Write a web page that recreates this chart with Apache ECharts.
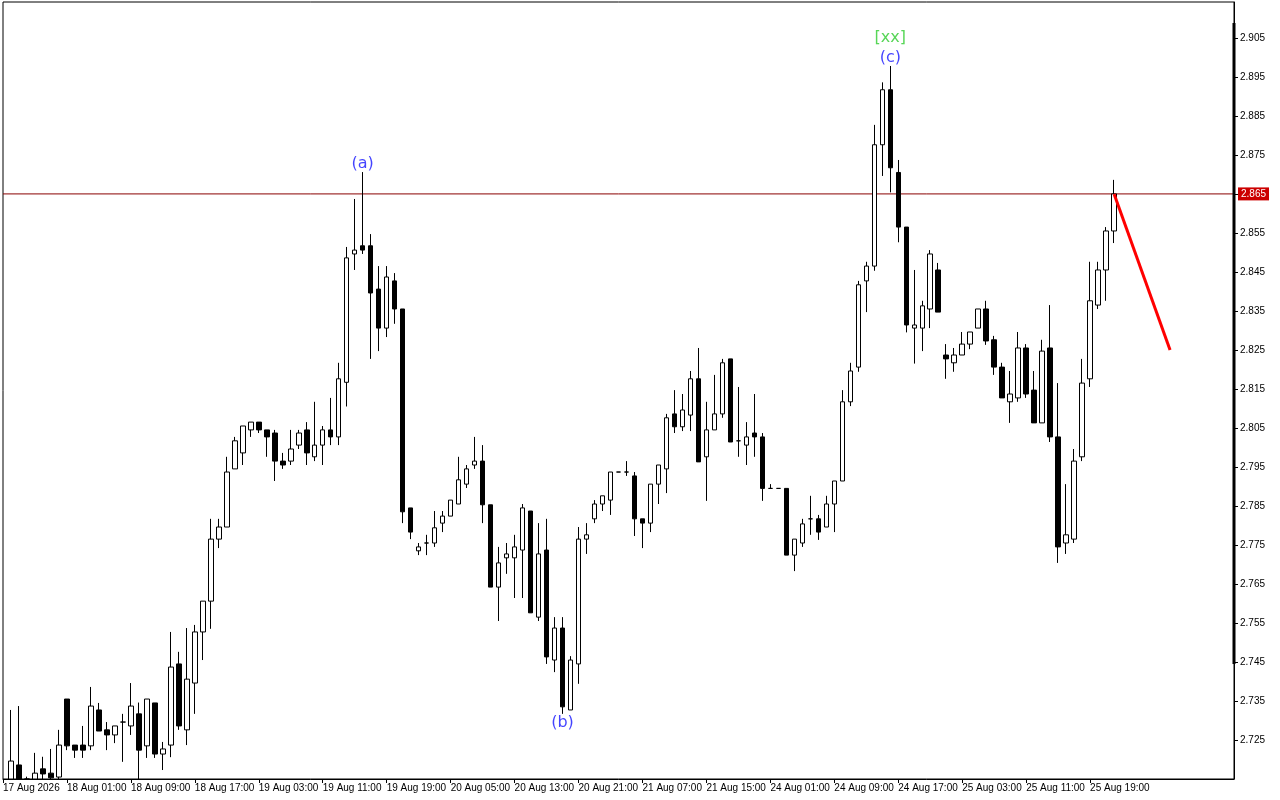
<!DOCTYPE html>
<html>
<head>
<meta charset="utf-8">
<script src="https://cdn.jsdelivr.net/npm/echarts@6/dist/echarts.min.js"></script>
<style>
html,body{margin:0;padding:0;background:#fff;}
#c{width:1280px;height:800px;}
</style>
</head>
<body>
<div id="c"></div>
<script>
// ---- data ----
const tickLabels = ['17 Aug 2026','18 Aug 01:00','18 Aug 09:00','18 Aug 17:00','19 Aug 03:00','19 Aug 11:00','19 Aug 19:00','20 Aug 05:00','20 Aug 13:00','20 Aug 21:00','21 Aug 07:00','21 Aug 15:00','24 Aug 01:00','24 Aug 09:00','24 Aug 17:00','25 Aug 03:00','25 Aug 11:00','25 Aug 19:00'];
const barsPerLabel = 8;
const totalSlots = 155;

// values below the visible floor (2.715) are read as the floor
const opens = [2.7150,2.7186,2.7150,2.7150,2.7176,2.7165,2.7155,2.7355,2.7237,2.7237,
2.7235,2.7327,2.7276,2.7263,2.7296,2.7286,2.7317,2.7235,2.7345,2.7214,
2.7237,2.7445,2.7276,2.7396,2.7527,2.7606,2.7765,2.7796,2.7945,2.7986,
2.8045,2.8065,2.8045,2.8037,2.7965,2.7965,2.8006,2.8045,2.7976,2.8006,
2.8045,2.8027,2.8167,2.8496,2.8517,2.8517,2.8406,2.8306,2.8427,2.8355,
2.7845,2.7735,2.7755,2.7755,2.7806,2.7824,2.7855,2.7906,2.7955,2.7965,
2.7853,2.7642,2.7717,2.7717,2.7737,2.7837,2.7565,2.7737,2.7455,2.7537,
2.7327,2.7445,2.7765,2.7817,2.7855,2.7865,2.7937,2.7937,2.7927,2.7817,
2.7806,2.7906,2.7945,2.8086,2.8053,2.8083,2.8176,2.7976,2.8045,2.8086,
2.8227,2.8017,2.8006,2.8037,2.8027,2.7895,2.7895,2.7895,2.7724,2.7755,
2.7817,2.7817,2.7796,2.7855,2.7914,2.8117,2.8206,2.8427,2.8465,2.8776,
2.8917,2.8705,2.8565,2.8306,2.8306,2.8355,2.8455,2.8237,2.8217,2.8237,
2.8265,2.8306,2.8355,2.8276,2.8206,2.8117,2.8127,2.8255,2.8147,2.8063,
2.8255,2.8027,2.7755,2.7765,2.7976,2.8176,2.8365,2.8455,2.8555];

const highs = [2.7327,2.7337,2.7156,2.7217,2.7207,2.7227,2.7276,2.7355,2.7237,2.7286,
2.7386,2.7345,2.7296,2.7286,2.7317,2.7396,2.7346,2.7355,2.7345,2.7245,
2.7527,2.7476,2.7537,2.7545,2.7606,2.7817,2.7817,2.7976,2.8027,2.8055,
2.8065,2.8065,2.8045,2.8045,2.7986,2.8045,2.8045,2.8065,2.8117,2.8055,
2.8127,2.8217,2.8514,2.8637,2.8706,2.8547,2.8465,2.8465,2.8447,2.8355,
2.7845,2.7755,2.7776,2.7837,2.7837,2.7865,2.7976,2.7955,2.8027,2.8006,
2.7853,2.7745,2.7755,2.7776,2.7855,2.7837,2.7806,2.7817,2.7565,2.7565,
2.7465,2.7796,2.7806,2.7865,2.7876,2.7937,2.7937,2.7965,2.7937,2.7817,
2.7906,2.7955,2.8086,2.8147,2.8137,2.8196,2.8255,2.8117,2.8186,2.8227,
2.8227,2.8155,2.8065,2.8137,2.8037,2.7906,2.7895,2.7895,2.7765,2.7817,
2.7876,2.7827,2.7876,2.7914,2.8147,2.8217,2.8427,2.8476,2.8827,2.8936,
2.8978,2.8737,2.8565,2.8455,2.8376,2.8506,2.8473,2.8265,2.8255,2.8296,
2.8296,2.8355,2.8376,2.8286,2.8217,2.8196,2.8296,2.8265,2.8196,2.8276,
2.8365,2.8165,2.7906,2.7996,2.8227,2.8476,2.8476,2.8565,2.8686];

const lows = [2.7150,2.7150,2.7150,2.7150,2.7150,2.7150,2.7150,2.7224,2.7204,2.7204,
2.7224,2.7273,2.7224,2.7242,2.7194,2.7263,2.7150,2.7204,2.7204,2.7173,
2.7206,2.7276,2.7237,2.7317,2.7455,2.7535,2.7742,2.7796,2.7945,2.7955,
2.8027,2.8037,2.7976,2.7914,2.7945,2.7955,2.7996,2.7955,2.7965,2.7955,
2.8006,2.8006,2.8105,2.8455,2.8496,2.8227,2.8247,2.8283,2.8317,2.7806,
2.7765,2.7724,2.7724,2.7745,2.7783,2.7824,2.7855,2.7896,2.7945,2.7806,
2.7642,2.7555,2.7676,2.7614,2.7614,2.7576,2.7555,2.7445,2.7424,2.7317,
2.7327,2.7394,2.7727,2.7806,2.7837,2.7827,2.7937,2.7927,2.7773,2.7742,
2.7783,2.7855,2.7883,2.8037,2.8042,2.8042,2.7963,2.7863,2.8045,2.8076,
2.8014,2.7976,2.7955,2.7976,2.7863,2.7895,2.7895,2.7724,2.7683,2.7745,
2.7776,2.7763,2.7796,2.7783,2.7914,2.8106,2.8194,2.8347,2.8453,2.8696,
2.8654,2.8526,2.8295,2.8215,2.8247,2.8306,2.8347,2.8176,2.8194,2.8237,
2.8252,2.8306,2.8263,2.8186,2.8127,2.8063,2.8117,2.8127,2.8063,2.8063,
2.8014,2.7704,2.7727,2.7755,2.7965,2.8155,2.8355,2.8376,2.8524];

const closes = [2.7196,2.7150,2.7150,2.7165,2.7163,2.7153,2.7237,2.7235,2.7224,2.7224,
2.7337,2.7273,2.7263,2.7286,2.7296,2.7337,2.7224,2.7355,2.7214,2.7227,
2.7437,2.7286,2.7406,2.7527,2.7606,2.7765,2.7796,2.7937,2.8017,2.8055,
2.8065,2.8045,2.8027,2.7965,2.7955,2.7996,2.8037,2.7986,2.8006,2.8045,
2.8027,2.8176,2.8486,2.8506,2.8506,2.8396,2.8306,2.8437,2.8355,2.7835,
2.7783,2.7745,2.7755,2.7794,2.7824,2.7865,2.7917,2.7945,2.7965,2.7853,
2.7642,2.7704,2.7727,2.7745,2.7845,2.7576,2.7727,2.7463,2.7537,2.7335,
2.7455,2.7765,2.7776,2.7855,2.7876,2.7937,2.7937,2.7937,2.7817,2.7806,
2.7906,2.7955,2.8076,2.8053,2.8096,2.8176,2.7963,2.8045,2.8086,2.8217,
2.8014,2.8017,2.8027,2.8027,2.7895,2.7895,2.7895,2.7724,2.7765,2.7804,
2.7817,2.7783,2.7855,2.7914,2.8117,2.8196,2.8417,2.8465,2.8776,2.8917,
2.8717,2.8565,2.8314,2.8314,2.8363,2.8496,2.8347,2.8227,2.8237,2.8265,
2.8296,2.8355,2.8273,2.8206,2.8127,2.8137,2.8255,2.8137,2.8063,2.8247,
2.8027,2.7745,2.7776,2.7965,2.8165,2.8376,2.8455,2.8555,2.8650];

const firstBarSlot = 1;
const currentPrice = 2.865;
const forecastFrom = [139, 2.865];
const forecastTo = [146, 2.825];
const waveText  = ['(a)', '(b)', '(c)'];
const waveBar   = [45, 70, 111];   // slot index of the labelled bar
const waveSide  = ['high', 'low', 'high'];
const degreeText = '[xx]';
const degreeBar = 111;
const sideBarRange = [2.7445, 2.9088];

// ---- build ----
const categories = [];
for (let i = 0; i < totalSlots; i++) {
  const k = i / barsPerLabel;
  categories.push(i % barsPerLabel === 0 && k < tickLabels.length ? tickLabels[k] : 's' + i);
}
const candleData = opens.map((o, i) => [i + firstBarSlot, o, closes[i], lows[i], highs[i]]);
function showSlot(i) { return i % barsPerLabel === 0 && i / barsPerLabel < tickLabels.length; }

const BLUE = '#1414ff', GREEN = '#2ecc2e';
const waveData = waveText.map((t, j) => {
  const bi = waveBar[j] - firstBarSlot;
  const high = waveSide[j] === 'high';
  return {
    value: [waveBar[j], high ? highs[bi] : lows[bi]],
    label: { formatter: t, offset: [0, high ? -8 : 9] }
  };
});
waveData.push({
  value: [degreeBar, highs[degreeBar - firstBarSlot]],
  label: { formatter: degreeText, offset: [0, -28], color: GREEN }
});

const FONT = 'Liberation Sans';
const chart = echarts.init(document.getElementById('c'), null, { renderer: 'canvas' });
const gridLeft = 2, gridTop = 2, gridW = 1232, gridH = 777;
chart.setOption({
  animation: false,
  backgroundColor: '#ffffff',
  grid: { left: gridLeft, top: gridTop, width: gridW, height: gridH, show: true,
          borderColor: '#000', borderWidth: 1, backgroundColor: '#fff' },
  xAxis: {
    type: 'category', data: categories, boundaryGap: false,
    axisLine: { show: true, lineStyle: { color: '#000', width: 1 } },
    axisTick: { show: true, interval: (i) => showSlot(i), length: 4, lineStyle: { color: '#000' } },
    axisLabel: { interval: (i) => showSlot(i), align: 'left', margin: 4, fontSize: 10,
                 fontFamily: FONT, color: '#000' },
    splitLine: { show: false }
  },
  yAxis: {
    type: 'value', position: 'right', min: 2.715, max: 2.9142, interval: 0.01,
    axisLine: { show: true, lineStyle: { color: '#000' } },
    axisTick: { show: true, length: 4, lineStyle: { color: '#000' } },
    axisLabel: { margin: 6, fontSize: 10, fontFamily: FONT, color: '#000',
                 showMinLabel: false, showMaxLabel: false,
                 formatter: (v) => v.toFixed(3) },
    splitLine: { show: false }
  },
  series: [
    {
      type: 'line',
      name: 'price line',
      data: [[0, currentPrice], [totalSlots - 1, currentPrice]],
      symbol: 'none', silent: true,
      lineStyle: { color: '#8a0000', width: 1 },
      endLabel: { show: true, distance: 4, formatter: currentPrice.toFixed(3),
                  backgroundColor: '#cc0000', color: '#fff', fontSize: 10, fontFamily: FONT,
                  padding: [2, 3, 1, 3] },
      z: 2
    },
    {
      type: 'candlestick',
      data: candleData,
      encode: { x: 0, y: [1, 2, 3, 4] },
      barWidth: 5,
      clip: true,
      itemStyle: { color: '#ffffff', color0: '#000000', borderColor: '#000000',
                   borderColor0: '#000000', borderColorDoji: '#000000', borderWidth: 1 },
      z: 3
    },
    {
      type: 'line',
      data: [forecastFrom, forecastTo],
      symbol: 'none',
      lineStyle: { color: '#ff0000', width: 3 },
      z: 4
    },
    {
      type: 'scatter',
      data: waveData,
      symbolSize: 0,
      label: { show: true, position: 'inside', color: BLUE, fontSize: 16, fontFamily: 'DejaVu Sans' },
      z: 5
    }
  ]
});

const bx = gridLeft + gridW;
const by1 = chart.convertToPixel({ yAxisIndex: 0 }, sideBarRange[1]);
const by2 = chart.convertToPixel({ yAxisIndex: 0 }, sideBarRange[0]);
chart.setOption({
  graphic: [{ type: 'line', shape: { x1: bx, y1: by1, x2: bx, y2: by2 },
              style: { stroke: '#000', lineWidth: 3 }, z: 100 }]
});
</script>
</body>
</html>
